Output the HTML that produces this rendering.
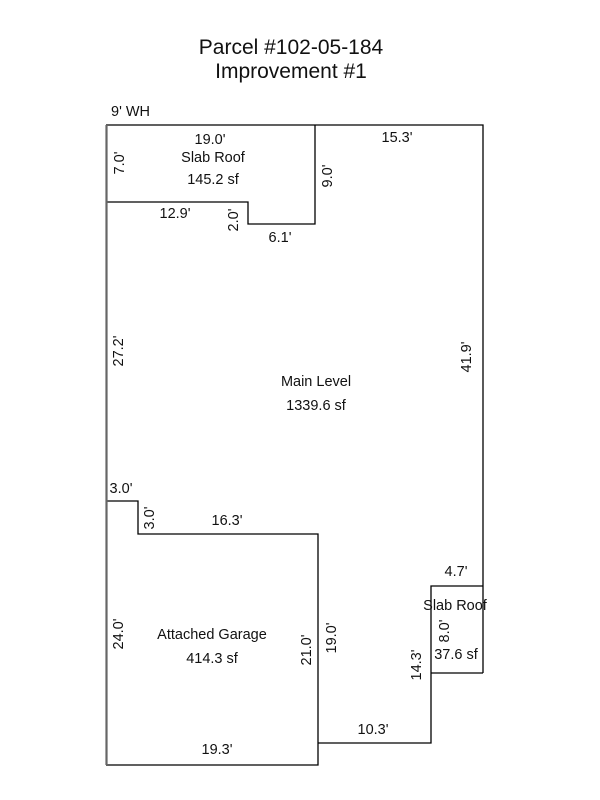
<!DOCTYPE html>
<html><head><meta charset="utf-8"><style>
html,body{margin:0;padding:0;background:#fff;width:600px;height:800px;overflow:hidden}
svg{display:block}
text{font-family:"Liberation Sans",Arial,sans-serif;fill:#111}
</style></head><body>
<svg width="600" height="800" viewBox="0 0 600 800" xmlns="http://www.w3.org/2000/svg">
<text x="291" y="54" font-size="21" text-anchor="middle">Parcel #102-05-184</text>
<text x="291" y="78" font-size="21" text-anchor="middle">Improvement #1</text>
<text x="111" y="116" font-size="14.5">9' WH</text>

<g fill="none" stroke="#000" stroke-width="1.3">
<polyline points="106,125 483,125 483,673"/>
<polyline points="315,125 315,224 248,224 248,202 106,202"/>
<polyline points="106,501 138,501 138,534 318,534 318,765 106,765"/>
<polyline points="318,743 431,743 431,586 483,586"/>
<polyline points="431,673 483,673"/>
</g>
<line x1="106.5" y1="125" x2="106.5" y2="765" stroke="#666" stroke-width="2.2"/>

<g font-size="14.5" text-anchor="middle">
<text x="210" y="144">19.0'</text>
<text x="213" y="162">Slab Roof</text>
<text x="213" y="184">145.2 sf</text>
<text x="397" y="142">15.3'</text>
<text x="175" y="218">12.9'</text>
<text x="280" y="242">6.1'</text>
<text x="316" y="386">Main Level</text>
<text x="316" y="410">1339.6 sf</text>
<text x="121" y="493">3.0'</text>
<text x="227" y="525">16.3'</text>
<text x="212" y="639">Attached Garage</text>
<text x="212" y="663">414.3 sf</text>
<text x="217" y="754">19.3'</text>
<text x="373" y="734">10.3'</text>
<text x="456" y="576">4.7'</text>
<text x="455" y="610">Slab Roof</text>
<text x="456" y="659">37.6 sf</text>

<text transform="translate(124,163) rotate(-90)">7.0'</text>
<text transform="translate(332,176) rotate(-90)">9.0'</text>
<text transform="translate(238,220) rotate(-90)">2.0'</text>
<text transform="translate(123,351) rotate(-90)">27.2'</text>
<text transform="translate(471,357) rotate(-90)">41.9'</text>
<text transform="translate(154,518) rotate(-90)">3.0'</text>
<text transform="translate(123,634) rotate(-90)">24.0'</text>
<text transform="translate(311,650) rotate(-90)">21.0'</text>
<text transform="translate(336,638) rotate(-90)">19.0'</text>
<text transform="translate(421,665) rotate(-90)">14.3'</text>
<text transform="translate(449,631) rotate(-90)">8.0'</text>
</g>
</svg>
</body></html>
